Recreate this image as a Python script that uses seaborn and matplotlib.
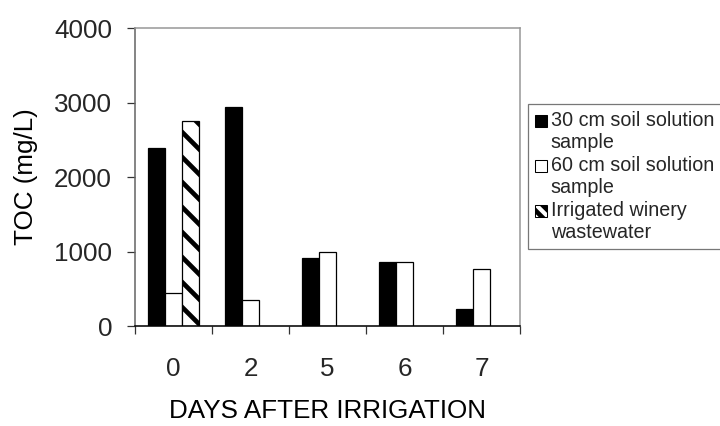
import numpy as np
import pandas as pd
import matplotlib
matplotlib.use("Agg")
import matplotlib.pyplot as plt
from matplotlib.patches import Patch, Rectangle
from matplotlib.legend_handler import HandlerPatch
import seaborn as sns

days = ["0", "2", "5", "6", "7"]
series_names = ["30 cm soil solution\nsample", "60 cm soil solution\nsample", "Irrigated winery\nwastewater"]
toc_30cm = [2390, 2940, 915, 855, 225]
toc_60cm = [440, 345, 990, 855, 765]
toc_wastewater = [2750, np.nan, np.nan, np.nan, np.nan]
y_ticks = [0, 1000, 2000, 3000, 4000]

rows = []
for name, vals in zip(series_names, [toc_30cm, toc_60cm, toc_wastewater]):
    for d, v in zip(days, vals):
        if not np.isnan(v):
            rows.append({"day": d, "series": name, "toc": v})
df = pd.DataFrame(rows)

sns.set_theme(style="white")
plt.rcParams["font.family"] = ["Liberation Sans", "DejaVu Sans"]
plt.rcParams["hatch.linewidth"] = 4.5

FS = 25

fig = plt.figure(figsize=(9.6, 5.68), dpi=75)
ax = fig.add_axes([135/720, 1-326/426, (520-135)/720, (326-28)/426])

sns.barplot(data=df, x="day", y="toc", hue="series", order=days, hue_order=series_names,
            palette=["black", "white", "white"], width=0.675, edgecolor="black",
            linewidth=1.2, errorbar=None, legend=False, ax=ax, saturation=1)

if len(ax.containers) >= 3:
    for p in ax.containers[2].patches:
        p.set_hatch("\\")

ax.set_ylim(0, 4000)
ax.set_yticks(y_ticks)
ax.set_xlim(-0.5, len(days) - 0.5)
ax.set_xticks(np.arange(-0.5, len(days)), labels=[""] * (len(days) + 1))
ax.set_xticks(np.arange(len(days)), labels=days, minor=True)
ax.tick_params(axis="x", which="major", direction="out", length=8, width=1.2, color="#333333", bottom=True)
ax.tick_params(axis="x", which="minor", length=0, labelsize=FS, pad=30)
ax.tick_params(axis="y", direction="out", length=8, width=1.2, color="#333333", left=True, labelsize=FS, pad=14)

ax.set_xlabel("DAYS AFTER IRRIGATION", fontsize=FS, color="black")
ax.set_ylabel("TOC (mg/L)", fontsize=FS, color="black")
ax.xaxis.set_label_coords(0.5, -(399-326)/298)
ax.yaxis.set_label_coords((38-135)/385, 0.5)

ax.spines["left"].set_color("#666666")
ax.spines["left"].set_linewidth(1.5)
for s in ["top", "right"]:
    ax.spines[s].set_color("#999999")
    ax.spines[s].set_linewidth(1.5)
ax.spines["bottom"].set_color("black")
ax.spines["bottom"].set_linewidth(1.5)
for s in ax.spines.values():
    s.set_visible(True)

LFS = 19

def top_square(legend, orig_handle, xdescent, ydescent, width, height, fontsize):
    return Rectangle((-xdescent, -ydescent + 0.55 * fontsize), width, height)

handles = [Patch(facecolor="black", edgecolor="black", linewidth=1),
           Patch(facecolor="white", edgecolor="black", linewidth=1),
           Patch(facecolor="white", edgecolor="black", linewidth=1, hatch="\\\\")]
leg = fig.legend(handles, series_names, loc="upper left", bbox_to_anchor=(528/720, 1-104/426),
                 fontsize=LFS, frameon=True, fancybox=False, borderpad=0.35, labelspacing=0.2,
                 handlelength=0.62, handleheight=0.62, handletextpad=0.18, borderaxespad=0,
                 handler_map={Patch: HandlerPatch(patch_func=top_square)})
leg.get_frame().set_edgecolor("#555555")
leg.get_frame().set_linewidth(1.2)
for t in leg.get_texts():
    t.set_linespacing(1.2)

fig.savefig("out.png", dpi=75)
